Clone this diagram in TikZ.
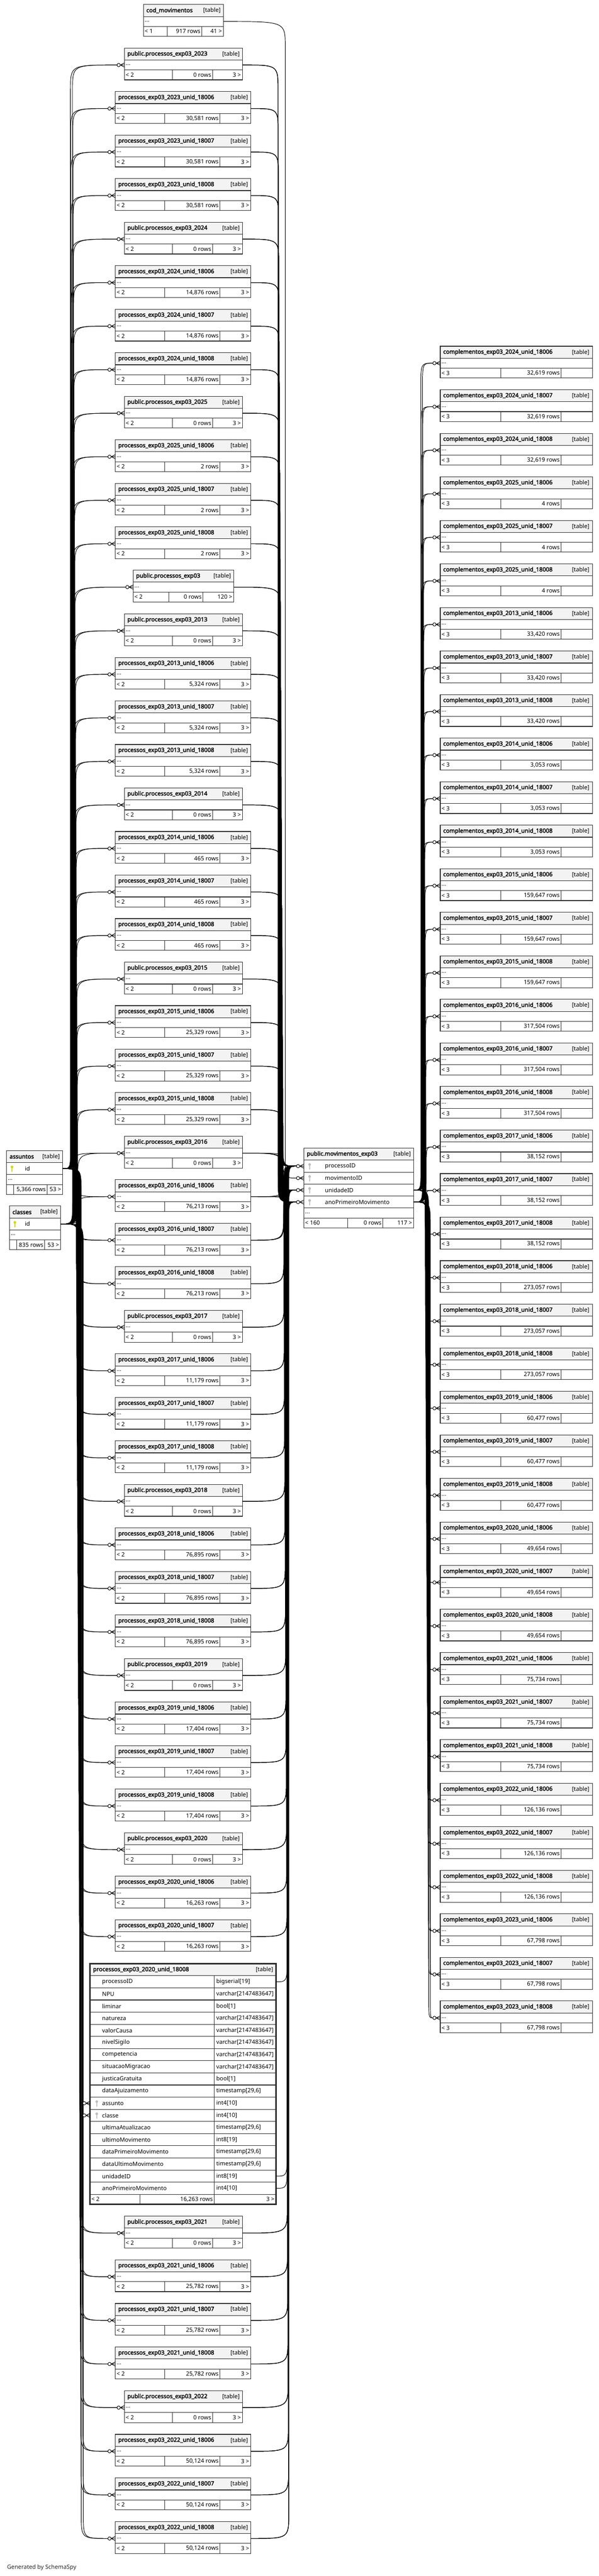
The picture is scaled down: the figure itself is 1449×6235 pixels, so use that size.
\documentclass[tikz,border=0pt]{standalone}
\usepackage{fontspec}
\setmainfont{Noto Sans}[BoldFont={Noto Sans}, BoldFeatures={FakeBold=2.5}]
\usetikzlibrary{calc}

\definecolor{hdrgray}{HTML}{F3F3F3}
\definecolor{edgegray}{HTML}{2E2E2E}
\definecolor{pkyellow}{HTML}{D6D600}
\definecolor{fkgray}{HTML}{BDBDBD}

\tikzset{
  hdrbox/.style={anchor=north west, minimum height=29pt, inner sep=0pt, outer sep=0pt, draw=edgegray, line width=1.4pt, fill=hdrgray},
  rowbox/.style={anchor=north west, minimum height=24pt, inner sep=0pt, outer sep=0pt, draw=edgegray, line width=1.4pt, fill=white},
  colbox/.style={rowbox, minimum height=29pt},
  txt/.style={inner sep=0pt, anchor=west},
  txtr/.style={txt, anchor=east},
  titletxt/.style={txt, font=\fontsize{14}{17}\selectfont\bfseries},
  fk/.style={line width=1.2pt, black},
}

% header row of a table
\newcommand{\tablehead}[5]{%
  \pgfmathsetmacro{\tw}{#3-#2}%
  \node[hdrbox, minimum width=\tw pt] (#1) at (#2,#4) {};
  \node[titletxt] (#1-name) at ([xshift=7pt]#1.west) {#5};
  \node[txtr] (#1-tag) at ([xshift=-7pt]#1.east) {[table]};
}
% the "..." row
\newcommand{\tabledots}[4]{%
  \pgfmathsetmacro{\tw}{#3-#2}%
  \node[rowbox, minimum width=\tw pt] (#1) at (#2,#4) {};
  \node[txt] (#1-txt) at ([xshift=3pt]#1.west) {...};
}
% footer: parents / rows / children
\newcommand{\tablefoot}[9]{%
  \pgfmathsetmacro{\wa}{#3-#2}%
  \pgfmathsetmacro{\wb}{#4-#3}%
  \pgfmathsetmacro{\wc}{#5-#4}%
  \node[rowbox, minimum width=\wa pt] (#1-fa) at (#2,#6) {};
  \node[rowbox, minimum width=\wb pt] (#1-fb) at (#3,#6) {};
  \node[rowbox, minimum width=\wc pt] (#1-fc) at (#4,#6) {};
  \node[txt] (#1-la) at ([xshift=3pt]#1-fa.west) {#7};
  \node[txtr] (#1-lb) at ([xshift=-3pt]#1-fb.east) {#8};
  \node[txtr] (#1-lc) at ([xshift=-4pt]#1-fc.east) {#9};
}
% connector: turn, run along a vertical lane, turn in
\newcommand{\fklink}[3]{%
  \draw[fk] let \p1=(#1), \p2=(#2), \n1={sign(\y2-\y1)*min(60,abs(\y2-\y1)/2)} in
    (\p1) .. controls (#3pt,\y1) .. (#3pt,\y1+\n1) -- (#3pt,\y2-\n1) .. controls (#3pt,\y2) .. (\p2);
}
% zero-or-many end
\newcommand{\crowfoot}[1]{%
  \draw[fk, shift={(#1)}] (-10,0) -- (0,-5) (-10,0) -- (0,0) (-10,0) -- (0,5);
  \draw[fk, fill=white, shift={(#1)}] (-14,0) circle[radius=4pt];
}
\newcommand{\keyicon}[2]{%
  \fill[#2, shift={(#1)}] (0,-4) circle[radius=3.2pt] (-1.1,-4) rectangle (1.1,8);
}

\begin{document}
\begin{tikzpicture}[x=1pt, y=-1pt, font=\fontsize{14}{17}\selectfont]
\fill[white] (0,0) rectangle (1449,6235);
\useasboundingbox (0,0) rectangle (1449,6235);

% parents on the left
\tablehead{ass}{16}{152}{2785}{assuntos}
\node[colbox, minimum width=136pt] (ass-id) at (16,2814) {};
\node[txt] (ass-idn) at ([xshift=44pt]ass-id.west) {id};
\keyicon{$(ass-id.west)+(13,0)$}{pkyellow}
\tabledots{ass-d}{16}{152}{2843}
\tablefoot{ass}{16}{33}{114}{152}{2867}{}{5,366 rows}{53 >}

\tablehead{cls}{23}{147}{2919}{classes}
\node[colbox, minimum width=124pt] (cls-id) at (23,2948) {};
\node[txt] (cls-idn) at ([xshift=37pt]cls-id.west) {id};
\keyicon{$(cls-id.west)+(13,0)$}{pkyellow}
\tabledots{cls-d}{23}{147}{2977}
\tablefoot{cls}{23}{40}{108}{147}{3001}{}{835 rows}{53 >}

% central table
\tablehead{mov}{735}{1001}{2779}{public.movimentos\_exp03}
\foreach \r/\c/\k in {p/processoID/0, m/movimentoID/1, u/unidadeID/2, a/anoPrimeiroMovimento/3}{
  \node[colbox, minimum width=266pt] (mov-\r) at (735,2808+29*\k) {};
  \node[txt] (mov-\r-n) at ([xshift=51pt]mov-\r.west) {\c};
  \keyicon{$(mov-\r.west)+(14,0)$}{fkgray}
}
\tabledots{mov-d}{735}{1001}{2924}
\tablefoot{mov}{735}{841}{926}{1001}{2948}{< 160}{0 rows}{117 >}

% left column
\tablehead{cod}{347}{541}{11}{cod\_movimentos}
\tabledots{cod-d}{347}{541}{40}
\tablefoot{cod}{347}{405}{488}{541}{64}{< 1}{917 rows}{41 >}
\fklink{cod-d.east}{[xshift=-18pt]mov-m.west}{690}

\tablehead{px}{322}{566}{1380}{public.processos\_exp03}
\tabledots{px-d}{322}{566}{1409}
\tablefoot{px}{322}{408}{491}{566}{1433}{< 2}{0 rows}{120 >}
\fklink{ass-id.east}{[xshift=-18pt]px-d.west}{176.5}
\fklink{cls-id.east}{[xshift=-18pt]px-d.west}{181.5}
\crowfoot{px-d.west}
\foreach \r in {p,u,a}{\fklink{px-d.east}{[xshift=-18pt]mov-\r.west}{678.5}}

\foreach \yr/\nr/\i in {2023/{30,581}/1, 2024/{14,876}/5, 2025/2/9, 2013/{5,324}/14, 2014/465/18,
  2015/{25,329}/22, 2016/{76,213}/26, 2017/{11,179}/30, 2018/{76,895}/34, 2019/{17,404}/38,
  2020/{16,263}/42, 2021/{25,782}/46, 2022/{50,124}/50}{
  \pgfmathsetmacro{\ty}{\i<46 ? 11+105.35*\i : 5364+105.6*(\i-46)}
  \tablehead{p\yr}{301}{587}{\ty}{public.processos\_exp03\_\yr}
  \tabledots{p\yr-d}{301}{587}{\ty+29}
  \tablefoot{p\yr}{301}{417}{514}{587}{\ty+53}{< 2}{0 rows}{3 >}
  \pgfmathsetmacro{\lbx}{170+0.5*\i}
  \pgfmathsetmacro{\rbx}{672+0.5*\i}
  \fklink{ass-id.east}{[xshift=-18pt]p\yr-d.west}{\lbx}
  \fklink{cls-id.east}{[xshift=-18pt]p\yr-d.west}{\lbx+5}
  \crowfoot{p\yr-d.west}
  \foreach \r in {p,u,a}{\fklink{p\yr-d.east}{[xshift=-18pt]mov-\r.west}{\rbx}}
  \foreach \u/\k in {18006/1, 18007/2, 18008/3}{
    \pgfmathtruncatemacro{\isfull}{(\yr==2020)&&(\k==3)}
    \ifnum\isfull=0
      \pgfmathsetmacro{\tu}{(\i+\k)<46 ? 11+105.35*(\i+\k) : 5364+105.6*(\i+\k-46)}
      \tablehead{u\yr\u}{279}{607}{\tu}{processos\_exp03\_\yr\_unid\_\u}
      \tabledots{u\yr\u-d}{279}{607}{\tu+29}
      \tablefoot{u\yr\u}{279}{398}{532}{607}{\tu+53}{< 2}{\nr\ rows}{3 >}
      \pgfmathsetmacro{\lbx}{170+0.5*(\i+\k)}
      \pgfmathsetmacro{\rbx}{672+0.5*(\i+\k)}
      \fklink{ass-id.east}{[xshift=-18pt]u\yr\u-d.west}{\lbx}
      \fklink{cls-id.east}{[xshift=-18pt]u\yr\u-d.west}{\lbx+5}
      \crowfoot{u\yr\u-d.west}
      \foreach \r in {p,u,a}{\fklink{u\yr\u-d.east}{[xshift=-18pt]mov-\r.west}{\rbx}}
    \fi
  }
}

% the one table shown with its columns
\tablehead{x2020}{218}{668}{4753}{processos\_exp03\_2020\_unid\_18008}
\foreach \c/\t [count=\k] in {processoID/{bigserial[19]}, NPU/{varchar[2147483647]}, liminar/{bool[1]},
  natureza/{varchar[2147483647]}, valorCausa/{varchar[2147483647]}, nivelSigilo/{varchar[2147483647]},
  competencia/{varchar[2147483647]}, situacaoMigracao/{varchar[2147483647]}, justicaGratuita/{bool[1]},
  dataAjuizamento/{timestamp[29,6]}, assunto/{int4[10]}, classe/{int4[10]},
  ultimaAtualizacao/{timestamp[29,6]}, ultimoMovimento/{int8[19]}, dataPrimeiroMovimento/{timestamp[29,6]},
  dataUltimoMovimento/{timestamp[29,6]}, unidadeID/{int8[19]}, anoPrimeiroMovimento/{int4[10]}}{
  \pgfmathsetmacro{\ry}{4782+29.4*(\k-1)}
  \node[colbox, minimum width=300pt, minimum height=29.4pt] (x2020-\k) at (218,\ry) {};
  \node[colbox, minimum width=150pt, minimum height=29.4pt] (x2020-t\k) at (518,\ry) {};
  \node[txt] (x2020-n\k) at ([xshift=29pt]x2020-\k.west) {\c};
  \node[txt] (x2020-v\k) at ([xshift=5pt]x2020-t\k.west) {\t};
}
\keyicon{$(x2020-11.west)+(16,0)$}{fkgray}
\keyicon{$(x2020-12.west)+(16,0)$}{fkgray}
\tablefoot{x2020}{218}{339}{518}{668}{5311}{< 2}{16,263 rows}{3 >}
\draw[edgegray, line width=3.5pt] (x2020.north west) rectangle (x2020-fc.south east);
\fklink{ass-id.east}{[xshift=-18pt]x2020-11.west}{192.5}
\fklink{cls-id.east}{[xshift=-18pt]x2020-12.west}{192.5}
\crowfoot{x2020-11.west}
\crowfoot{x2020-12.west}
\fklink{x2020-t1.east}{[xshift=-18pt]mov-p.west}{694.5}
\fklink{x2020-t17.east}{[xshift=-18pt]mov-u.west}{694.5}
\fklink{x2020-t18.east}{[xshift=-18pt]mov-a.west}{694.5}

% right column
\foreach \yr/\nr [count=\g from 0] in {2024/{32,619}, 2025/4, 2013/{33,420}, 2014/{3,053}, 2015/{159,647},
  2016/{317,504}, 2017/{38,152}, 2018/{273,057}, 2019/{60,477}, 2020/{49,654}, 2021/{75,734},
  2022/{126,136}, 2023/{67,798}}{
  \foreach \u/\k in {18006/0, 18007/1, 18008/2}{
    \pgfmathsetmacro{\tc}{838+105.4*(3*\g+\k)}
    \tablehead{c\yr\u}{1065}{1433}{\tc}{complementos\_exp03\_\yr\_unid\_\u}
    \tabledots{c\yr\u-d}{1065}{1433}{\tc+29}
    \tablefoot{c\yr\u}{1065}{1211}{1357}{1433}{\tc+53}{< 3}{\nr\ rows}{}
    \pgfmathsetmacro{\cbx}{1018+0.5*(3*\g+\k)}
    \fklink{mov-u.east}{[xshift=-18pt]c\yr\u-d.west}{\cbx}
    \fklink{mov-a.east}{[xshift=-18pt]c\yr\u-d.west}{\cbx+4}
    \crowfoot{c\yr\u-d.west}
  }
}

\foreach \r in {p,m,u,a}{\crowfoot{mov-\r.west}}

\node[txt, text=black!85] (credit) at (17,6215) {Generated by SchemaSpy};
\end{tikzpicture}
\end{document}
